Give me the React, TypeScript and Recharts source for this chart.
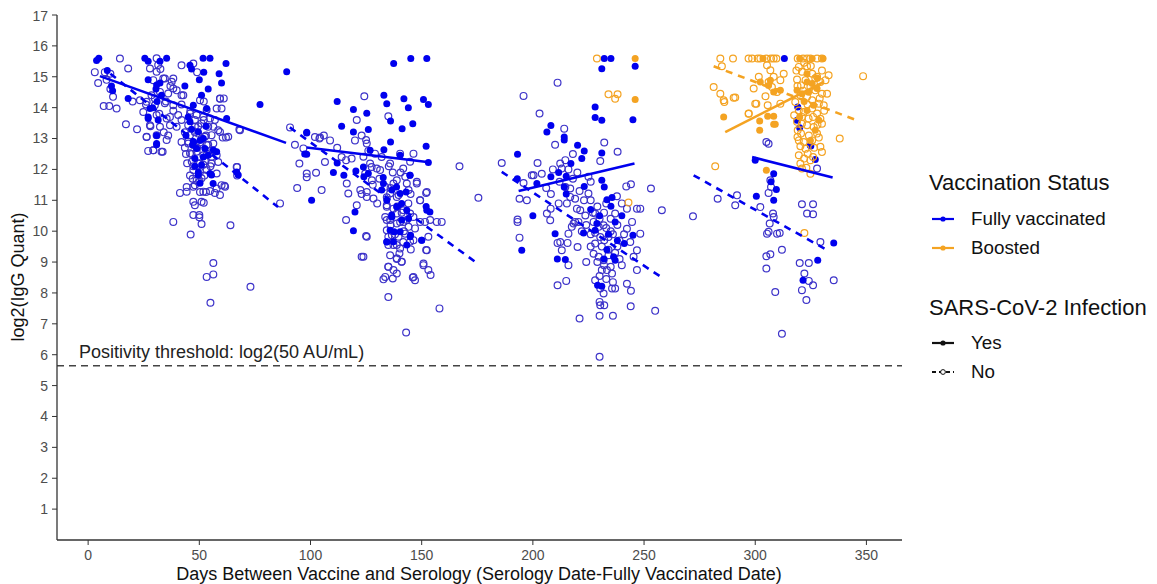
import React from "react";
import { ScatterChart, Scatter, XAxis, YAxis, ReferenceLine } from "recharts";

// [days, log2 IgG]
const fullyVaxNo: number[][] = [
  [3, 15.15], [7.5, 15.15], [10, 15.1], [14.3, 15.59], [18, 15.27], [8.3, 14.9], [10, 14.6], [11.2, 14.35],
  [12.8, 13.97], [7, 14.05], [9.5, 14.05], [17, 13.46], [23.3, 14.24], [24.8, 13.86], [26.3, 13.05], [28, 13.4],
  [29.3, 12.62], [33.5, 12.57], [34, 13.2], [36, 13.1], [30.8, 15.16], [30.8, 15.6], [32.5, 15.25], [34.5, 14.94],
  [38.3, 14.94], [37, 14.7], [39.8, 14.56], [42, 15.37], [42.8, 14.4], [42, 14.1], [38.3, 13.9], [36.8, 13.7],
  [39.8, 13.38], [42, 12.89], [43.5, 12.7], [47.3, 15.43], [49, 15.15], [50.3, 14.24], [52, 14.2], [53.3, 13.92],
  [57.8, 13.97], [59.3, 14.29], [61, 14.3], [56.3, 13.38], [59.3, 13.21], [60.5, 13.03], [62, 13.03], [68, 13.29],
  [58.5, 12.24], [57.8, 11.87], [60, 11.49], [61.3, 11.47], [67, 12.08], [67, 11.8], [41.3, 11.24], [44.3, 11.43],
  [48, 11.49], [50.3, 11.27], [53, 11.27], [57, 11.24], [48, 10.84], [52, 10.92], [47.3, 10.52], [50, 10.52],
  [50, 10.45], [51, 10.23], [38.3, 10.3], [46.1, 9.89], [64, 10.19], [56.3, 8.97], [56.3, 8.6], [53.3, 8.52],
  [55, 7.68], [73, 8.2], [45, 12.9], [46.5, 12.5], [48, 13.2], [50.3, 12.2], [54, 12.8], [44, 12.5], [47.3, 12.1],
  [51.8, 12.15], [45.8, 11.8], [52.3, 11.8], [55.5, 12.4], [43.5, 13.2], [48, 13.6], [52, 13.6], [53, 13.1],
  [42, 13.6], [46, 13.9], [49, 12.7], [51, 13.0], [55, 12.1], [44.5, 12.2], [47, 11.7], [50, 11.6], [53.5, 12.5],
  [49.5, 13.4], [4.5, 14.8], [20, 14.2], [26, 14.1], [30, 14.3], [32, 13.8], [35, 14.2], [27, 12.6], [22, 13.3],
  [86.3, 10.9],
  [45.8, 13.81], [48.8, 13.76], [51.8, 13.7], [54.8, 13.65], [57, 13.6], [45, 13.43], [48, 13.38], [51, 13.49],
  [54, 13.38], [45.8, 13.11], [49.5, 13.16], [52.5, 13.06], [55.5, 13.11], [58.5, 13.27], [45, 12.84], [47.3, 12.79],
  [50.3, 12.87], [53.3, 12.79], [56.3, 12.84], [45.8, 12.52], [48.8, 12.57], [51.8, 12.46], [54.8, 12.52],
  [57.8, 12.46], [46.6, 12.25], [49.5, 12.19], [52.5, 12.27], [55.5, 12.19], [47.3, 11.98], [50.3, 11.92],
  [53.3, 11.98], [48.8, 11.65], [51, 11.71], [47.3, 11.44], [51.8, 11.28], [54.8, 11.3], [57.8, 11.38], [44.3, 11.28],
  [27.8, 15.27], [31.5, 15.38], [29.3, 14.89], [33.8, 14.94], [37.6, 14.84], [38.3, 14.62], [36, 14.46],
  [32.3, 14.51], [28.5, 14.4], [26.3, 14.19], [30, 14.08], [34.5, 14.14], [38.3, 14.08], [42, 14.4], [40.5, 13.76],
  [35.3, 13.65], [30.8, 13.76], [27.8, 13.43], [32.3, 13.38], [36.8, 13.43], [26.3, 13.06], [30.8, 13.11],
  [35.3, 12.95], [29.3, 12.62], [33, 12.57], [59.3, 14.3], [60, 13.97], [63, 13.06], [68.3, 13.27], [66.8, 12.08],
  [61.6, 11.44], [59.3, 11.17], [47.3, 10.95], [51, 10.95],
  [90.8, 13.36], [96.8, 12.68], [104, 13.0], [106, 13.1], [108.8, 12.94], [95, 12.19], [98.3, 11.87], [98.3, 11.75],
  [102.5, 11.89], [94, 11.4], [105, 11.33], [106.5, 12.24], [116, 12.3], [118.5, 12.35], [116.3, 11.54], [117, 11.22],
  [122.4, 11.33], [123, 11.2], [125.3, 11.11], [120.8, 10.84], [116, 10.36], [125, 9.84], [123, 9.17], [124.2, 14.37],
  [120.8, 13.6], [120, 12.94], [123, 13.1], [125, 12.95], [129, 12.51], [127.5, 12.08], [129.8, 12.03], [135, 13.72],
  [135.2, 12.1], [138.8, 11.65], [141.7, 12.03], [146.3, 12.51], [140.5, 11.9], [143.3, 11.54], [147.8, 11.6],
  [138.8, 11.11], [134.3, 11.1], [134.3, 10.79], [134.3, 10.36], [136, 10.2], [138.8, 10.57], [140.3, 10.3],
  [143.3, 10.36], [146.3, 10.46], [149.3, 11.0], [152, 11.24], [149.3, 10.3], [159, 10.3], [151.5, 10.3],
  [156.8, 10.3], [153, 9.82], [146.3, 9.71], [141.7, 9.65], [138.8, 9.55], [135, 9.82], [135, 9.55], [145.1, 9.41],
  [140, 9.28], [138.8, 9.1], [141, 9.01], [152, 9.39], [150.8, 8.9], [153, 8.74], [154, 8.58], [135, 8.85],
  [137.3, 8.74], [132.8, 8.44], [137, 8.47], [146, 8.5], [147, 8.41], [135, 7.87], [158, 7.5], [143, 6.72],
  [167, 12.1], [175.5, 11.08], [102, 13.05], [104.3, 13.03], [93, 12.8], [112, 12.7], [114, 12.4], [128, 11.5],
  [130, 10.9], [132, 12.4], [137, 11.9], [139, 10.8], [142, 10.0], [144, 10.9], [138, 9.9], [141, 10.6], [136, 11.4],
  [145, 11.2], [131, 11.7], [126, 12.6],
  [125.3, 12.84], [123.8, 12.41], [126.8, 12.19], [124.6, 11.87], [127.6, 11.65], [125.3, 11.27], [128.3, 11.06],
  [131.3, 11.98], [135.8, 12.19], [140.3, 12.51], [144.8, 12.25], [142.6, 11.76], [137.3, 11.54], [133.6, 11.44],
  [135.8, 11.22], [139.6, 11.17], [144.1, 11.33], [147.8, 11.54], [134.3, 10.84], [137.3, 10.73], [141.8, 10.68],
  [144.8, 10.57], [133.6, 10.46], [135.8, 10.36], [138.8, 10.25], [141.8, 10.3], [144.1, 10.14], [134.3, 10.03],
  [136.6, 9.87], [139.6, 9.82], [142.6, 9.92], [137.3, 9.55], [140.3, 9.44], [144.8, 9.66], [135.8, 9.22],
  [138.8, 9.12], [141, 9.01], [147, 10.09], [149.3, 11.0], [152.3, 11.27], [153.8, 10.36], [152.3, 9.38],
  [150.8, 8.95], [125.3, 9.82], [123.8, 9.17], [135, 8.85], [138.8, 8.63], [146.3, 8.52], [133.6, 8.52],
  [211.1, 14.81], [195.8, 14.38], [203, 13.81], [214.1, 13.32], [232.1, 12.87], [238.1, 12.57], [230.3, 12.27],
  [186, 12.21], [202.1, 12.21], [199.5, 11.81], [195.8, 11.56], [194, 11.05], [197.3, 11.0], [193.1, 10.38],
  [193.1, 10.3], [194, 9.79], [208.1, 11.2], [212.3, 12.19], [214.6, 12.3], [213, 12.03], [214.6, 11.43],
  [216.8, 11.38], [216.8, 11.11], [215.3, 10.9], [207.8, 10.35], [211.6, 10.9], [219.8, 10.73], [221.3, 10.68],
  [219, 10.3], [217.5, 10.14], [216, 9.92], [215.6, 9.62], [212.3, 9.65], [211.1, 9.62], [213, 9.38], [220.1, 9.49],
  [216, 8.9], [211.1, 8.25], [215, 8.39], [225, 11.22], [228, 10.57], [227.3, 10.3], [229.6, 10.14], [231.8, 10.19],
  [230.3, 9.81], [232.1, 9.71], [234, 9.81], [228, 9.6], [227.3, 9.27], [229.6, 9.17], [231.8, 9.06], [234, 9.22],
  [231, 8.74], [233.3, 8.74], [235.6, 8.63], [228, 8.41], [230.3, 8.14], [231.8, 7.98], [235.6, 8.14], [237, 8.14],
  [230, 7.71], [230.3, 7.6], [232.1, 7.6], [230, 7.26], [236, 7.26], [221, 7.17], [230, 5.93], [242.3, 8.3],
  [244.1, 8.07], [244, 7.57], [255, 7.42], [246.8, 8.74], [245.3, 9.17], [246.8, 9.38], [243.8, 9.65], [248.3, 9.92],
  [242.3, 10.08], [244.6, 10.3], [242.3, 10.73], [246.8, 10.73], [248.3, 10.73], [253.1, 11.38], [258, 10.68],
  [242, 11.45], [244.1, 11.52], [237.8, 11.13], [237, 10.57], [225, 11.76], [223.6, 10.51], [208, 10.73],
  [206.3, 10.57], [218.3, 10.25], [220.5, 10.3], [204, 11.86], [200.3, 11.81], [233, 10.9], [235, 10.0], [226, 9.9],
  [224, 9.0], [238, 9.5], [240, 8.9], [226, 11.6], [220, 11.9], [218, 12.5], [210, 12.8], [222, 10.0],
  [226, 11.0], [229, 10.8], [232, 10.6], [235, 10.4], [238, 10.2], [227, 10.6], [230, 10.4], [233, 10.1], [236, 9.9],
  [239, 9.7], [228, 9.95], [231, 9.5], [234, 9.4], [237, 9.3], [229, 9.0], [232, 8.9], [235, 8.85], [230, 8.55],
  [233, 8.45], [236, 8.35], [240, 10.9], [239, 9.1], [226, 9.5], [224, 10.2], [241, 9.9], [209, 12.0], [212, 11.6],
  [218, 11.7], [221, 11.3], [216, 12.0], [206, 11.4], [219, 11.05], [223, 11.0],
  [305, 12.89], [306, 12.83], [327.8, 12.03], [306.8, 11.65], [307.1, 11.43], [306, 11.24], [291.8, 11.16],
  [291, 10.84], [283.1, 11.05], [272, 10.48], [302.3, 10.78], [308, 10.57], [308.3, 10.46], [306.5, 10.25],
  [306, 9.98], [305.3, 9.92], [309.8, 9.92], [311, 9.94], [312, 9.4], [305, 9.19], [306.8, 9.25], [305, 8.79],
  [309, 8.03], [321, 10.87], [326, 10.87], [323.3, 10.57], [326, 10.55], [329.3, 9.65], [320, 8.97], [324.1, 8.97],
  [322.1, 8.63], [324.1, 8.39], [326, 8.25], [335.3, 8.41], [321, 8.09], [323, 7.77], [312, 6.68],
];

const fullyVaxYes: number[][] = [
  [3.8, 15.53], [4.8, 15.6], [25.5, 15.6], [27, 15.5], [32.3, 15.5], [35.3, 15.6], [45.8, 15.37], [46.5, 15.25],
  [51.7, 15.6], [54.8, 15.6], [62, 15.43], [52, 15.15], [50, 14.9], [58.9, 15.1], [60, 14.8], [54, 14.6], [51, 14.4],
  [43.5, 14.7], [27, 14.9], [32.3, 14.8], [30.5, 14.6], [18, 14.3], [8.6, 15.2], [10.5, 14.7], [11, 14.55],
  [89.3, 15.16], [77.3, 14.1], [62.3, 13.65], [27, 13.65], [30.8, 13.1], [30.8, 12.8], [45, 13.7], [46.5, 13.3],
  [50.3, 12.94], [51.8, 12.4], [57.8, 12.57], [49.6, 11.92], [54.8, 11.87], [56.2, 11.54], [66.8, 11.92],
  [67.5, 11.82], [31, 14.2], [29, 14.0], [47, 12.8], [48, 12.1], [53, 13.4], [44, 13.1],
  [45.8, 13.54], [49.5, 13.22], [47.3, 12.9], [52.5, 12.68], [48, 12.35], [51, 12.14], [54, 12.46], [55.5, 11.82],
  [49.5, 11.82], [50.3, 11.55], [47.3, 14.08], [53.3, 13.97], [56.3, 12.63], [51.8, 13.0], [48.8, 12.68],
  [30.8, 14.73], [33, 14.4], [27.8, 13.97], [31.5, 13.6], [30.8, 12.84], [27, 13.7],
  [98.3, 13.2], [97.4, 12.5], [100.5, 11.0], [137.4, 15.43], [145.1, 15.59], [152.3, 15.59], [112, 14.2],
  [119.3, 13.94], [125.3, 13.82], [133, 14.4], [134.3, 14.13], [142, 14.29], [144, 14.0], [150.8, 14.26], [153, 14.1],
  [136, 13.57], [141.2, 13.32], [146, 13.48], [126, 13.29], [119.3, 13.21], [114, 13.4], [98.3, 13.18],
  [98.3, 12.49], [112, 12.21], [110.3, 11.9], [115, 11.81], [120, 10.62], [119.3, 10.01], [133, 12.64], [136, 12.89],
  [152, 12.75], [153, 12.22], [120.4, 11.95], [124, 11.76], [132.7, 11.74], [138.7, 11.43], [144.7, 11.81],
  [143, 11.27], [141, 10.9], [136.5, 10.52], [137.6, 9.98], [134.3, 9.65], [143.3, 9.55], [145, 9.87], [150, 9.71],
  [153.7, 10.62], [152, 10.8],
  [132.8, 11.54], [136.6, 11.33], [140.3, 11.22], [134.3, 11.0], [138.8, 10.79], [143.3, 10.68], [136.6, 10.46],
  [141, 10.36], [144.1, 10.41], [135.8, 10.03], [140.3, 9.98], [137.3, 9.66], [144.8, 9.82], [134.3, 9.66],
  [132, 11.33], [123.8, 12.08], [126, 11.87], [126.8, 12.62], [140.3, 12.46], [144.8, 11.81], [152.3, 10.68],
  [150, 9.71],
  [232.1, 15.59], [235.1, 15.59], [231, 15.26], [246, 15.34], [245, 13.61], [228, 14.02], [228, 13.68], [231, 13.59],
  [208.1, 13.42], [206.3, 13.21], [214.1, 13.05], [214.1, 12.95], [220.1, 12.78], [223.1, 12.6], [222, 12.35],
  [231, 12.53], [193.1, 12.49], [193, 11.7], [201.8, 11.54], [208.1, 11.76], [211.6, 11.9], [215, 11.78],
  [217.1, 12.19], [214.1, 11.43], [215, 11.2], [223.1, 11.45], [231, 11.65], [232.1, 11.43], [233.3, 11.02],
  [235.6, 11.09], [235.1, 10.81], [237, 10.3], [228.8, 10.25], [228, 10.03], [222.8, 9.94], [210, 9.92], [195, 9.38],
  [200, 10.5], [211, 9.1], [214.6, 9.08], [245, 9.87], [241.1, 9.6], [236.3, 9.17], [237, 9.06], [233.3, 9.4],
  [229.1, 8.25], [231, 8.22], [230, 10.5], [234, 9.9], [232, 9.1], [238, 9.7], [226, 10.7], [240, 10.5],
  [313.1, 15.59], [319.1, 14.02], [318.8, 13.59], [320, 13.35], [324.8, 12.78], [327, 12.32], [300, 12.3],
  [308.3, 11.86], [307.1, 11.6], [309.5, 11.35], [308.3, 11.0], [300.5, 11.13], [335.3, 9.62], [328.1, 9.06],
  [321.5, 8.41], [325, 12.76],
];

const boostedYes: number[][] = [
  [246, 15.59], [246, 14.26], [285.8, 13.7], [302, 13.57], [302, 13.27], [305.6, 13.72], [308.3, 13.72], [309, 13.46],
  [308.3, 13.46], [302.3, 14.83], [306.8, 14.89], [306, 14.72], [308.3, 14.51], [311.3, 14.56], [318.8, 14.56],
  [321, 14.45], [323.3, 14.83], [323.3, 15.1], [325.6, 14.78], [327.8, 14.62], [326.3, 14.08], [323.3, 13.91],
  [328.6, 13.59], [327, 13.27], [324.8, 12.94], [325.6, 15.59], [330.5, 15.59], [303.5, 15.59], [305, 11.97],
  [320, 15.59], [322, 14.2], [320, 13.7], [324, 14.5], [328, 14.95],
];

const boostedNo: number[][] = [
  [228.8, 15.59], [234, 14.43], [237, 14.29], [238.1, 14.43], [243, 10.93],
  [284.3, 15.59], [290, 15.59], [297, 15.59], [298.6, 15.59], [301.1, 15.59], [302.3, 15.59], [305, 15.59],
  [307.1, 15.59], [308.3, 15.59], [309.5, 15.59], [319.1, 15.59], [321.5, 15.59], [323.3, 15.59], [324.8, 15.59],
  [327.8, 15.59], [330, 15.59], [285, 15.34], [281.3, 14.67], [284.3, 14.45], [286.1, 14.18], [290.3, 14.32],
  [301.6, 15.0], [305.3, 15.37], [306.8, 15.21], [308.3, 15.0], [306, 14.83], [311.3, 14.89], [312.8, 15.1],
  [307.5, 14.67], [309.8, 14.51], [299.3, 14.62], [304.6, 14.37], [300.5, 14.13], [297.1, 13.81], [305.6, 14.08],
  [311.3, 14.13], [319.6, 15.32], [321, 15.16], [323.3, 15.34], [318.8, 14.91], [320.6, 14.72], [322.6, 14.89],
  [325.6, 15.1], [327.8, 15.0], [329.3, 14.83], [331.6, 14.89], [333, 15.05], [324.8, 14.67], [327, 14.56],
  [330, 14.45], [320.3, 14.4], [318, 14.18], [323.3, 14.35], [325.6, 14.24], [328.6, 14.13], [332.3, 14.45],
  [330.8, 14.08], [319.6, 13.91], [321.8, 13.86], [325.6, 13.97], [327.8, 13.81], [329.3, 13.64], [330, 13.48],
  [318.8, 13.54], [321, 13.48], [323.3, 13.43], [326.3, 13.37], [319.1, 13.27], [320.6, 13.16], [324.1, 13.1],
  [327.8, 13.16], [319.6, 12.94], [321.8, 12.89], [325.6, 12.94], [328.6, 13.03], [320.3, 12.75], [322.6, 12.67],
  [329.3, 12.73], [330, 12.56], [319.6, 12.46], [323.6, 12.51], [320.3, 12.19], [324.8, 12.3], [324.8, 11.86],
  [321, 12.03], [338, 13.0], [348.5, 15.02], [282, 12.1], [291, 14.33], [297, 13.8], [300, 14.13], [322.1, 9.94],
  [285.8, 14.24], [318.5, 15.2], [321.5, 14.55], [323.5, 14.1], [326, 13.7], [328, 13.45], [321, 13.7],
  [324, 13.65], [319, 13.05], [326.5, 12.7], [322, 12.35], [327, 14.95], [330, 15.2], [319, 14.7], [322, 15.45],
  [329, 14.3], [331, 13.9], [317.5, 13.75], [326, 12.4], [323, 12.05], [325, 15.35],
];

// fitted trend lines, one segment per time block: [start, end]
const fullyVaxYesFits: number[][][] = [
  [[5.3, 15.02], [89, 12.86]],
  [[98.3, 12.71], [153.4, 12.23]],
  [[193.6, 11.3], [245.7, 12.19]],
  [[298.6, 12.4], [334.8, 11.74]],
];
const fullyVaxNoFits: number[][][] = [
  [[10, 15.1], [85.4, 10.78]],
  [[90.7, 13.36], [175.6, 8.93]],
  [[186, 11.92], [258, 8.5]],
  [[272.3, 11.81], [333, 9.36]],
];
const boostedYesFits: number[][][] = [[[286.5, 13.21], [330.8, 14.83]]];
const boostedNoFits: number[][][] = [[[281.3, 15.34], [346.5, 13.57]]];

const xTicks = [0, 50, 100, 150, 200, 250, 300, 350];
const yTicks = [1, 2, 3, 4, 5, 6, 7, 8, 9, 10, 11, 12, 13, 14, 15, 16, 17];
const threshold = Math.log2(50);

const BLUE = "#0000ee";
const BLUE_RING = "#3d33c9";
const ORANGE = "#f4a322";
const FONT = "'Liberation Sans', Arial, sans-serif";

const toPts = (arr: number[][]) => arr.map(([x, y]) => ({ x, y }));

const filled = (color: string) => (p: any) => <circle cx={p.cx} cy={p.cy} r={3.5} fill={color} />;
const ring = (color: string) => (p: any) => (
  <circle cx={p.cx} cy={p.cy} r={3.4} fill="none" stroke={color} strokeWidth={1.2} />
);
const none = () => <g />;

function fitLines(segs: number[][][], color: string, dashed: boolean, key: string) {
  return segs.map((s, i) => (
    <Scatter
      key={key + i}
      data={toPts(s)}
      shape={none}
      line={{ stroke: color, strokeWidth: 2.6, strokeDasharray: dashed ? "7 6" : undefined }}
      isAnimationActive={false}
    />
  ));
}

function LegendKey({ color, solid }: { color: string; solid: boolean }) {
  return (
    <svg width={24} height={12} style={{ display: "block" }}>
      <line x1={1} y1={6} x2={23} y2={6} stroke={color} strokeWidth={2.2} strokeDasharray={solid ? undefined : "4 3"} />
      {solid ? (
        <circle cx={12} cy={6} r={2.6} fill={color} />
      ) : (
        <circle cx={12} cy={6} r={2.4} fill="#fff" stroke={color} strokeWidth={1} />
      )}
    </svg>
  );
}

function LegendRow({ color, solid, label }: { color: string; solid: boolean; label: string }) {
  return (
    <div style={{ display: "flex", alignItems: "center", height: 29 }}>
      <div style={{ width: 40, paddingLeft: 2 }}>
        <LegendKey color={color} solid={solid} />
      </div>
      <span style={{ fontSize: 18.8, color: "#111" }}>{label}</span>
    </div>
  );
}

export default function App() {
  return (
    <div style={{ position: "relative", width: 1141, height: 576, fontFamily: FONT, background: "#fff" }}>
      <ScatterChart width={900} height={576} margin={{ top: 7, right: 6, left: 0, bottom: 0 }}>
        <XAxis
          type="number"
          dataKey="x"
          domain={[-14, 366]}
          ticks={xTicks}
          allowDataOverflow
          height={44}
          tickSize={5}
          tickMargin={5}
          tick={{ fill: "#4d4d4d", fontSize: 14 }}
          axisLine={{ stroke: "#333", strokeWidth: 1.3 }}
          tickLine={{ stroke: "#333" }}
        />
        <YAxis
          type="number"
          dataKey="y"
          domain={[0, 17]}
          ticks={yTicks}
          allowDataOverflow
          width={49}
          tickSize={5}
          tickMargin={4}
          tick={{ fill: "#4d4d4d", fontSize: 14 }}
          axisLine={{ stroke: "#333", strokeWidth: 1.3 }}
          tickLine={{ stroke: "#333" }}
        />
        <ReferenceLine
          y={threshold}
          stroke="#444"
          strokeWidth={1.5}
          strokeDasharray="7 5"
          label={(props: any) => (
            <text x={props.viewBox.x + 22} y={props.viewBox.y - 8} fontSize={18} fill="#222" fontFamily={FONT}>
              Positivity threshold: log2(50 AU/mL)
            </text>
          )}
        />
        <Scatter data={toPts(fullyVaxNo)} shape={ring(BLUE_RING)} isAnimationActive={false} />
        <Scatter data={toPts(fullyVaxYes)} shape={filled(BLUE)} isAnimationActive={false} />
        <Scatter data={toPts(boostedNo)} shape={ring(ORANGE)} isAnimationActive={false} />
        <Scatter data={toPts(boostedYes)} shape={filled(ORANGE)} isAnimationActive={false} />
        {fitLines(fullyVaxYesFits, BLUE, false, "fy")}
        {fitLines(fullyVaxNoFits, BLUE, true, "fn")}
        {fitLines(boostedYesFits, ORANGE, false, "by")}
        {fitLines(boostedNoFits, ORANGE, true, "bn")}
      </ScatterChart>

      <div
        style={{
          position: "absolute",
          left: 10,
          top: 269,
          transform: "translate(-50%, -50%) rotate(-90deg)",
          whiteSpace: "nowrap",
          fontSize: 18,
          color: "#111",
        }}
      >
        log2(IgG Quant)
      </div>
      <div
        style={{
          position: "absolute",
          left: 471,
          top: 566,
          transform: "translate(-50%, -50%)",
          whiteSpace: "nowrap",
          fontSize: 18,
          color: "#111",
        }}
      >
        Days Between Vaccine and Serology (Serology Date-Fully Vaccinated Date)
      </div>

      <div style={{ position: "absolute", left: 921, top: 162, color: "#111" }}>
        <div style={{ fontSize: 22, height: 26, lineHeight: "26px", whiteSpace: "nowrap" }}>Vaccination Status</div>
        <div style={{ height: 8 }} />
        <LegendRow color={BLUE} solid label="Fully vaccinated" />
        <LegendRow color={ORANGE} solid label="Boosted" />
        <div style={{ height: 33 }} />
        <div style={{ fontSize: 22, height: 26, lineHeight: "26px", whiteSpace: "nowrap" }}>SARS-CoV-2 Infection</div>
        <div style={{ height: 7 }} />
        <LegendRow color="#111" solid label="Yes" />
        <LegendRow color="#111" solid={false} label="No" />
      </div>
    </div>
  );
}
